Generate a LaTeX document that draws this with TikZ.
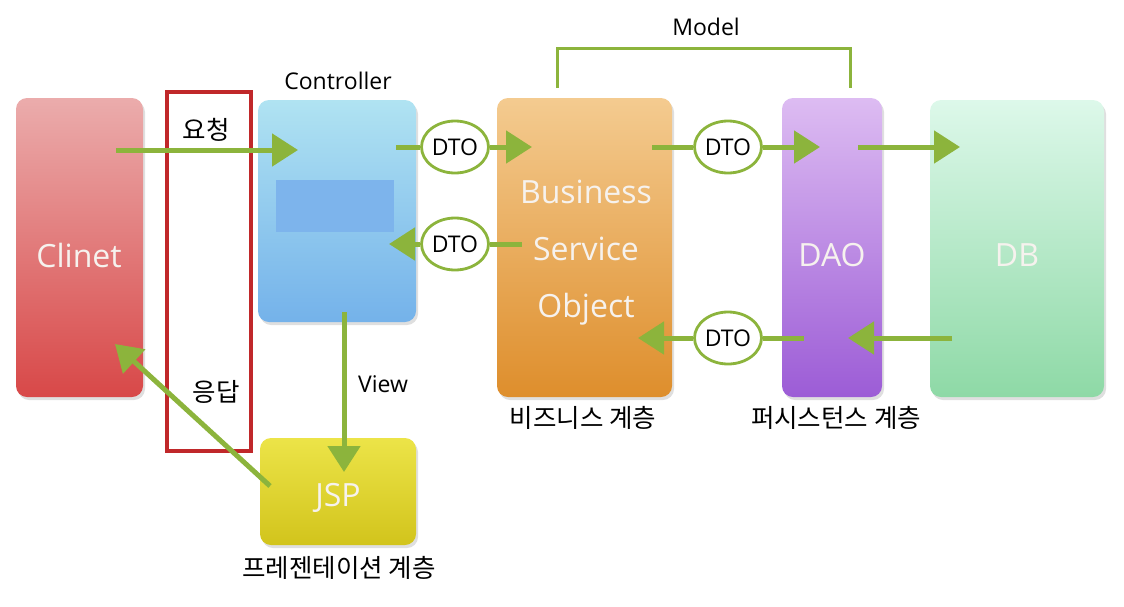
\documentclass[tikz,border=0pt]{standalone}
\usepackage{fontspec}
\setmainfont{Open Sans}
\newfontfamily\kr{Noto Sans CJK KR}
\usetikzlibrary{arrows.meta,shadows,shapes.geometric}
\definecolor{arrowgreen}{HTML}{8CB43C}
\definecolor{framered}{HTML}{C0282A}
\definecolor{cliT}{HTML}{EBACAC}\definecolor{cliB}{HTML}{D84848}
\definecolor{ctlT}{HTML}{B0E3F2}\definecolor{ctlB}{HTML}{74B2EA}
\definecolor{blankC}{HTML}{7DB4EC}
\definecolor{jspT}{HTML}{ECE448}\definecolor{jspB}{HTML}{D2C41C}
\definecolor{bsoT}{HTML}{F4CB90}\definecolor{bsoB}{HTML}{DE8E2C}
\definecolor{daoT}{HTML}{DDBCF2}\definecolor{daoB}{HTML}{9C5CD6}
\definecolor{dbT}{HTML}{DDF8EA}\definecolor{dbB}{HTML}{8ED9A6}
\definecolor{boxtext}{HTML}{F6F2EE}
\begin{document}
\begin{tikzpicture}[x=1pt,y=-1pt,
  box/.style={rectangle,rounded corners=11pt,inner sep=0pt,
    drop shadow={opacity=0.25,shadow xshift=2pt,shadow yshift=-3pt}},
  boxlbl/.style={font=\fontsize{32}{57}\selectfont,text=boxtext,align=center,inner sep=0pt},
  flow/.style={draw=arrowgreen,line width=5pt,-{Triangle[length=26pt,width=32pt]}},
  plain/.style={draw=arrowgreen,line width=5pt},
  dto/.style={ellipse,draw=arrowgreen,line width=2.8pt,fill=white,
    minimum width=67pt,minimum height=52pt,inner sep=0pt,
    font=\fontsize{23}{26}\selectfont},
  lbl/.style={font=\fontsize{23}{26}\selectfont},
  krl/.style={font=\kr\fontsize{25.5}{28}\selectfont}]
\useasboundingbox (0,0) rectangle (1124,606);

% boxes
\node[box,top color=cliT, bottom color=cliB,
  minimum width=127pt,minimum height=299pt] (client) at (79.5,247.5) {};
\node[box,top color=ctlT, bottom color=ctlB,
  minimum width=158pt,minimum height=222pt] (ctrl) at (337,211) {};
\node[rectangle,fill=blankC,minimum width=118pt,minimum height=52pt,inner sep=0pt]
  (blank) at (335,206) {};
\node[box,top color=jspT, bottom color=jspB,
  minimum width=156pt,minimum height=107pt] (jsp) at (338,491.5) {};
\node[box,top color=bsoT, bottom color=bsoB,
  minimum width=175pt,minimum height=299pt] (bso) at (584.5,247.5) {};
\node[box,top color=daoT, bottom color=daoB,
  minimum width=100pt,minimum height=299pt] (dao) at (832,247.5) {};
\node[box,top color=dbT, bottom color=dbB,
  minimum width=174pt,minimum height=297pt] (db) at (1017,248.5) {};

% box labels
\node[boxlbl] (tcli) at (79,255) {Clinet};
\node[boxlbl] (tjsp) at (338,498) {JSP};
\node[boxlbl] (tbso) at (586,253) {Business\\Service\\Object};
\node[boxlbl] (tdao) at (832,255) {DAO};
\node[boxlbl] (tdb) at (1017,255) {DB};

% red frame
\node[rectangle,draw=framered,line width=4pt,minimum width=84pt,minimum height=359pt,inner sep=0pt]
  (frame) at (209,271.5) {};

% labels
\node[lbl] (lctrl) at (338,81) {Controller};
\node[lbl] (lview) at (383,384) {View};
\node[lbl] (lmodel) at (706,27) {Model};
\node[krl] (lreq) at (206,130) {요청};
\node[krl] (lres) at (216,392) {응답};
\node[krl] (lpres) at (339,568) {프레젠테이션 계층};
\node[krl] (lbiz) at (583,418) {비즈니스 계층};
\node[krl] (lper) at (836,418) {퍼시스턴스 계층};

% anchor coordinates inside boxes
\coordinate (cliOut) at (116,150);
\coordinate (ctrlIn) at (298,150);
\coordinate (jspOut) at (270,486);
\coordinate (cliIn) at (115,344);
\coordinate (ctrlDown) at (344,312);
\coordinate (jspIn) at (344,472);
\coordinate (ctrlOut) at (396,147);
\coordinate (bsoIn) at (532,147);
\coordinate (bsoOut) at (522,244);
\coordinate (ctrlIn2) at (389,244);
\coordinate (bsoOut2) at (652,147);
\coordinate (daoIn) at (820,147);
\coordinate (daoOut) at (858,147);
\coordinate (dbIn) at (960,147);
\coordinate (dbOut) at (952,338);
\coordinate (daoIn2) at (848,338);
\coordinate (daoOut2) at (804,338);
\coordinate (bsoIn2) at (638,338);
\coordinate (mL) at (557,88);
\coordinate (mR) at (850,88);

% model bracket
\draw[draw=arrowgreen,line width=3pt] (mL) -- ++(0,-40) -| (mR);

% DTO ellipses
\node[dto] (d1) at (455,147) {DTO};
\node[dto] (d2) at (455,244) {DTO};
\node[dto] (d3) at (728,147) {DTO};
\node[dto] (d4) at (728,338) {DTO};

% arrows
\draw[flow] (cliOut) -- (ctrlIn);
\draw[flow] (jspOut) -- (cliIn);
\draw[flow] (ctrlDown) -- (jspIn);
\draw[plain] (ctrlOut) -- (d1.west);
\draw[flow] (d1.east) -- (bsoIn);
\draw[plain] (bsoOut) -- (d2.east);
\draw[flow] (d2.west) -- (ctrlIn2);
\draw[plain] (bsoOut2) -- (d3.west);
\draw[flow] (d3.east) -- (daoIn);
\draw[flow] (daoOut) -- (dbIn);
\draw[flow] (dbOut) -- (daoIn2);
\draw[plain] (daoOut2) -- (d4.east);
\draw[flow] (d4.west) -- (bsoIn2);
\end{tikzpicture}
\end{document}
